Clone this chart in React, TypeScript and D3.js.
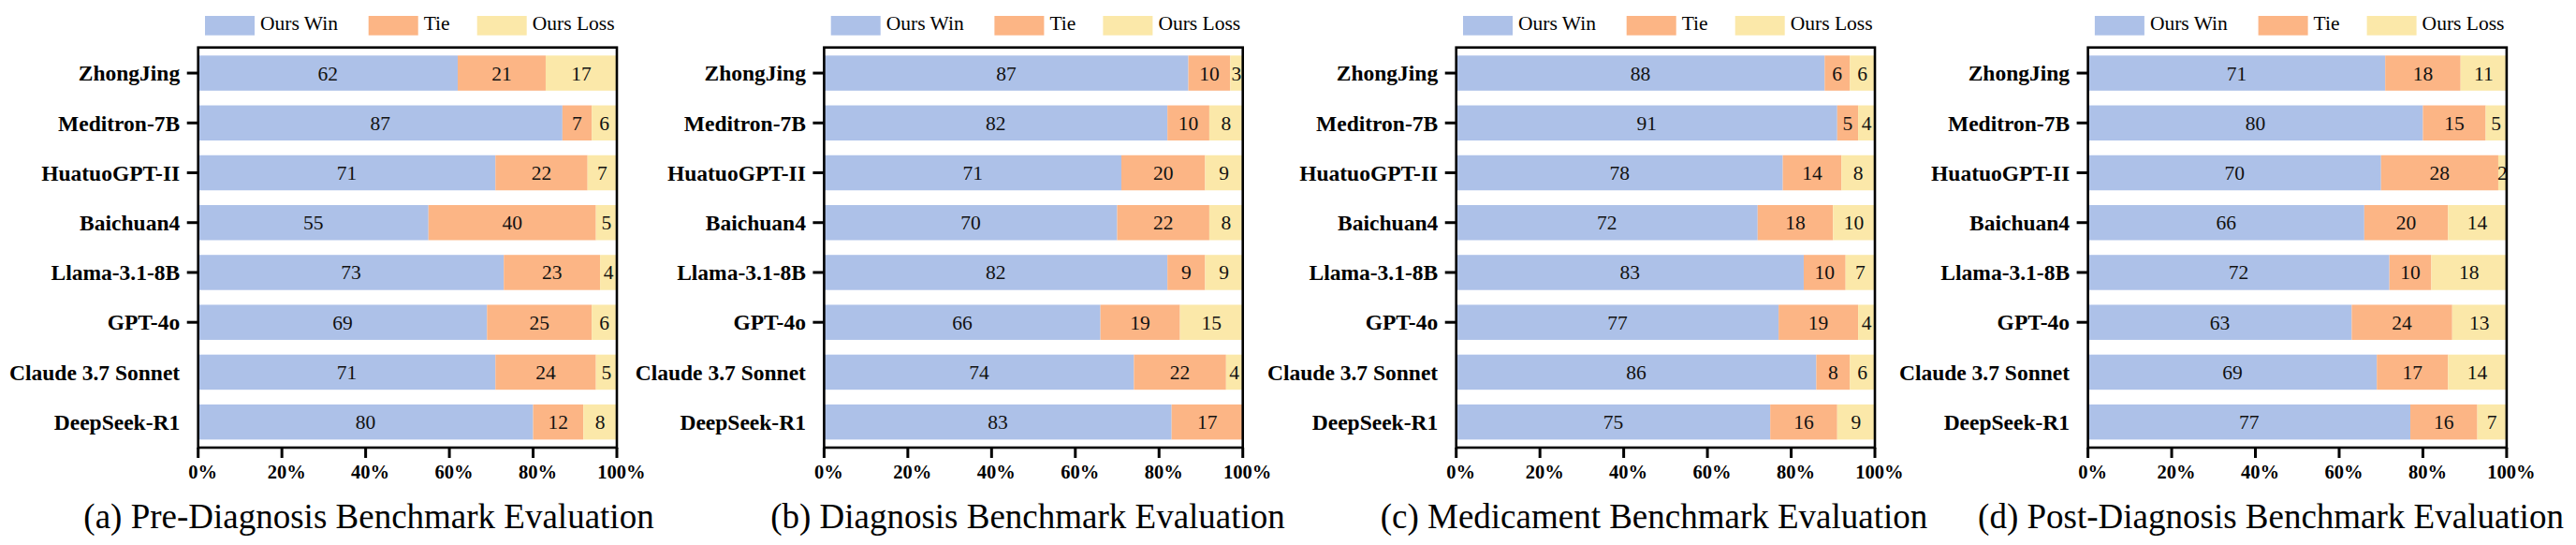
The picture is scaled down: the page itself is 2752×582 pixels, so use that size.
import { useEffect, useRef } from "react";
import * as d3 from "d3";

// model names, top to bottom
const categories = [
  "ZhongJing",
  "Meditron-7B",
  "HuatuoGPT-II",
  "Baichuan4",
  "Llama-3.1-8B",
  "GPT-4o",
  "Claude 3.7 Sonnet",
  "DeepSeek-R1",
];
// only these rows get a tick mark in the original
const tickedCategories = categories.slice(0, 6);

const seriesKeys = ["Ours Win", "Tie", "Ours Loss"];
const xTicks = [0, 20, 40, 60, 80, 100];

const preWin = [62, 87, 71, 55, 73, 69, 71, 80];
const preTie = [21, 7, 22, 40, 23, 25, 24, 12];
const preLoss = [17, 6, 7, 5, 4, 6, 5, 8];

const diagWin = [87, 82, 71, 70, 82, 66, 74, 83];
const diagTie = [10, 10, 20, 22, 9, 19, 22, 17];
const diagLoss = [3, 8, 9, 8, 9, 15, 4, 0];

const medWin = [88, 91, 78, 72, 83, 77, 86, 75];
const medTie = [6, 5, 14, 18, 10, 19, 8, 16];
const medLoss = [6, 4, 8, 10, 7, 4, 6, 9];

const postWin = [71, 80, 70, 66, 72, 63, 69, 77];
const postTie = [18, 15, 28, 20, 10, 24, 17, 16];
const postLoss = [11, 5, 2, 14, 18, 13, 14, 7];

const titles = [
  "(a) Pre-Diagnosis Benchmark Evaluation",
  "(b) Diagnosis Benchmark Evaluation",
  "(c) Medicament Benchmark Evaluation",
  "(d) Post-Diagnosis Benchmark Evaluation",
];

const panels = [
  { title: titles[0], win: preWin, tie: preTie, loss: preLoss },
  { title: titles[1], win: diagWin, tie: diagTie, loss: diagLoss },
  { title: titles[2], win: medWin, tie: medTie, loss: medLoss },
  { title: titles[3], win: postWin, tie: postTie, loss: postLoss },
];

const WIDTH = 2752;
const HEIGHT = 582;
const COLORS = ["#adc1e8", "#fcb585", "#fbe8a9"];
const FONT = "'Liberation Serif', 'DejaVu Serif', serif";

// layout
const panelLeft = [211.7, 880.4, 1555.7, 2230.6];
const titleCenter = [394, 1098, 1767, 2426];
const plotW = 447.3;
const plotTop = 50.7;
const plotBottom = 478;
const legendX = [7.3, 182, 298];

export default function App() {
  const svgRef = useRef<SVGSVGElement>(null);

  useEffect(() => {
    if (!svgRef.current) return;
    const svg = d3.select(svgRef.current);
    svg.selectAll("*").remove();

    svg.append("rect").attr("width", WIDTH).attr("height", HEIGHT).attr("fill", "#fff");

    const x = d3.scaleLinear().domain([0, 100]).range([0, plotW]);
    const y = d3
      .scaleBand<string>()
      .domain(categories)
      .range([plotTop, plotBottom])
      .paddingInner(0.2955)
      .paddingOuter(0.1616);
    const color = d3.scaleOrdinal<string, string>().domain(seriesKeys).range(COLORS);

    panels.forEach((p, pi) => {
      const g = svg.append("g").attr("transform", `translate(${panelLeft[pi]},0)`);

      const rows = categories.map((c, i) => ({
        category: c,
        "Ours Win": p.win[i],
        Tie: p.tie[i],
        "Ours Loss": p.loss[i],
      }));
      const stacked = d3.stack<any>().keys(seriesKeys)(rows);

      // bars
      const layers = g
        .selectAll(".layer")
        .data(stacked)
        .enter()
        .append("g")
        .attr("fill", (d) => color(d.key));

      layers
        .selectAll("rect")
        .data((d) => d)
        .enter()
        .append("rect")
        .attr("x", (d) => x(d[0]))
        .attr("y", (d) => y(d.data.category)!)
        .attr("width", (d) => x(d[1]) - x(d[0]))
        .attr("height", y.bandwidth());

      // value labels
      stacked.forEach((layer) => {
        g.append("g")
          .selectAll("text")
          .data(layer.filter((d) => d[1] - d[0] > 0))
          .enter()
          .append("text")
          .attr("x", (d) => x((d[0] + d[1]) / 2))
          .attr("y", (d) => y(d.data.category)! + y.bandwidth() / 2)
          .attr("dy", "0.35em")
          .attr("text-anchor", "middle")
          .attr("font-family", FONT)
          .attr("font-size", 21.5)
          .attr("fill", "#111")
          .text((d) => d[1] - d[0]);
      });

      // frame
      g.append("rect")
        .attr("x", 0)
        .attr("y", plotTop)
        .attr("width", plotW)
        .attr("height", plotBottom - plotTop)
        .attr("fill", "none")
        .attr("stroke", "#000")
        .attr("stroke-width", 2.6);

      // y ticks and labels
      g.append("g")
        .selectAll("line")
        .data(tickedCategories)
        .enter()
        .append("line")
        .attr("x1", -12)
        .attr("x2", 0)
        .attr("y1", (d) => y(d)! + y.bandwidth() / 2)
        .attr("y2", (d) => y(d)! + y.bandwidth() / 2)
        .attr("stroke", "#000")
        .attr("stroke-width", 3);

      g.append("g")
        .selectAll("text")
        .data(categories)
        .enter()
        .append("text")
        .attr("x", -19.5)
        .attr("y", (d) => y(d)! + y.bandwidth() / 2)
        .attr("dy", "0.35em")
        .attr("text-anchor", "end")
        .attr("font-family", FONT)
        .attr("font-weight", "bold")
        .attr("font-size", 23.5)
        .attr("fill", "#000")
        .text((d) => d);

      // x ticks and labels
      const xAxis = g.append("g");
      xAxis
        .selectAll("line")
        .data(xTicks)
        .enter()
        .append("line")
        .attr("x1", (d) => x(d))
        .attr("x2", (d) => x(d))
        .attr("y1", plotBottom)
        .attr("y2", plotBottom + 11)
        .attr("stroke", "#000")
        .attr("stroke-width", 3);
      xAxis
        .selectAll("text")
        .data(xTicks)
        .enter()
        .append("text")
        .attr("x", (d) => x(d) + 5)
        .attr("y", 511)
        .attr("text-anchor", "middle")
        .attr("font-family", FONT)
        .attr("font-weight", "bold")
        .attr("font-size", 20.5)
        .attr("fill", "#000")
        .text((d) => `${d}%`);

      // legend
      const legend = g.append("g");
      seriesKeys.forEach((k, i) => {
        legend
          .append("rect")
          .attr("x", legendX[i])
          .attr("y", 17)
          .attr("width", 53)
          .attr("height", 20.7)
          .attr("fill", color(k));
        legend
          .append("text")
          .attr("x", legendX[i] + 59)
          .attr("y", 32)
          .attr("font-family", FONT)
          .attr("font-size", 21.5)
          .attr("fill", "#000")
          .text(k);
      });

      // caption
      svg
        .append("text")
        .attr("x", titleCenter[pi])
        .attr("y", 564)
        .attr("text-anchor", "middle")
        .attr("font-family", FONT)
        .attr("font-size", 37)
        .attr("fill", "#000")
        .text(p.title);
    });
  }, []);

  return (
    <svg
      ref={svgRef}
      width={WIDTH}
      height={HEIGHT}
      style={{ position: "absolute", left: 0, top: 0, display: "block" }}
    />
  );
}
